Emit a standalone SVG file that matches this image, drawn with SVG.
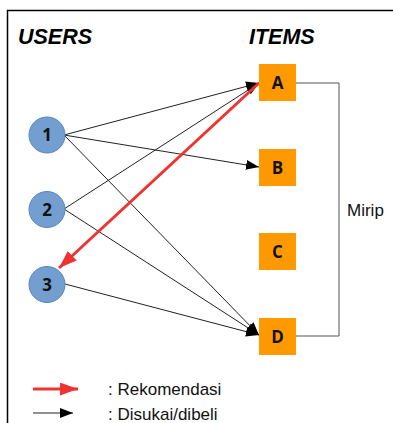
<svg xmlns="http://www.w3.org/2000/svg" width="393" height="423" viewBox="0 0 393 423">
  <style>
    .user circle { fill: #729fcf; stroke: #5b86bb; stroke-width: 1; }
    .item rect { fill: #ff9900; }
    .lbl { font-family: "Open Sans", "Liberation Sans", sans-serif; font-weight: bold; font-size: 17px; fill: #111; text-anchor: middle; }
    .head { font-family: "Liberation Sans", Arial, sans-serif; font-weight: bold; font-style: italic; font-size: 21.5px; fill: #000; }
    .txt { font-family: "Liberation Sans", Arial, sans-serif; font-size: 17px; fill: #111; }
    .like { stroke: #222; stroke-width: 1; fill: none; marker-end: url(#blk); }
    .rec { stroke: #ee3333; stroke-width: 3; fill: none; marker-end: url(#red); }
  </style>
  <defs>
    <marker id="blk" viewBox="0 0 13 10" refX="13" refY="5" markerWidth="13" markerHeight="10" markerUnits="userSpaceOnUse" orient="auto">
      <path d="M0,0 L13,5 L0,10 Z" fill="#000"/>
    </marker>
    <marker id="red" viewBox="0 0 18 13" refX="18" refY="6.5" markerWidth="18" markerHeight="13" markerUnits="userSpaceOnUse" orient="auto">
      <path d="M0,0 L18,6.5 L0,13 Z" fill="#ee3333"/>
    </marker>
  </defs>

  <rect width="393" height="423" fill="#fff"/>
  <!-- frame -->
  <path d="M7.5,423 V10.5 H393" fill="none" stroke="#000" stroke-width="1.5"/>

  <text class="head" x="18" y="44">USERS</text>
  <text class="head" x="249" y="44">ITEMS</text>

  <!-- connectors -->
  <g id="connectors">
    <path class="like" d="M64,135 L259,83"/>
    <path class="like" d="M64,135 L259,167"/>
    <path class="like" d="M64,135 L259,335"/>
    <path class="like" d="M64,209 L259,83"/>
    <path class="like" d="M64,209 L259,335"/>
    <path class="like" d="M65,284 L259,335"/>
    <path class="rec" d="M259,83 L59,268"/>
    <!-- similarity bracket A–D -->
    <path d="M295,83 H339 V336 H295" fill="none" stroke="#555" stroke-width="1"/>
  </g>

  <g id="user1" class="user"><circle cx="47" cy="135" r="18"/><text class="lbl" x="47" y="141">1</text></g>
  <g id="user2" class="user"><circle cx="47" cy="209.5" r="18"/><text class="lbl" x="47" y="215.5">2</text></g>
  <g id="user3" class="user"><circle cx="47" cy="284.5" r="18"/><text class="lbl" x="47" y="290.5">3</text></g>

  <g id="itemA" class="item"><rect x="259" y="64" width="37" height="37"/><text class="lbl" x="277.5" y="88.5">A</text></g>
  <g id="itemB" class="item"><rect x="259" y="149" width="37" height="37"/><text class="lbl" x="277.5" y="173.5">B</text></g>
  <g id="itemC" class="item"><rect x="259" y="233" width="37" height="37"/><text class="lbl" x="277.5" y="257.5">C</text></g>
  <g id="itemD" class="item"><rect x="259" y="318" width="37" height="37"/><text class="lbl" x="277.5" y="342.5">D</text></g>

  <text class="txt" x="347" y="216">Mirip</text>

  <!-- legend -->
  <g id="legend">
    <path class="rec" d="M33,389 L78,389"/>
    <path class="like" d="M33,413 L73,413"/>
    <text class="txt" x="108" y="395">: Rekomendasi</text>
    <text class="txt" x="108" y="420">: Disukai/dibeli</text>
  </g>
</svg>
